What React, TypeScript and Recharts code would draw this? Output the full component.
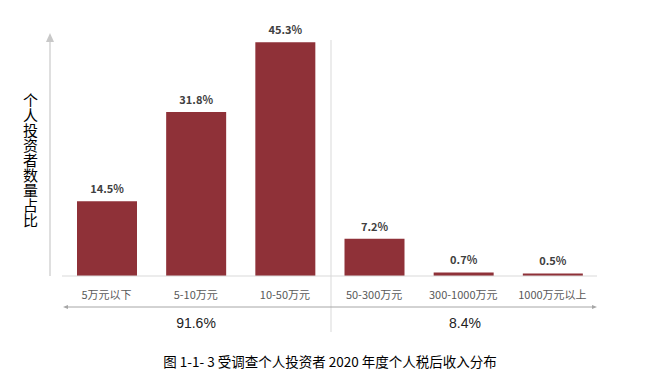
import React from "react";
import { BarChart, Bar, XAxis, YAxis, LabelList } from "recharts";

const categories = ["5万元以下", "5-10万元", "10-50万元", "50-300万元", "300-1000万元", "1000万元以上"];
const shares = [14.5, 31.8, 45.3, 7.2, 0.7, 0.5];
const groupLabels = ["91.6%", "8.4%"];
const yTitle = "个人投资者数量占比";
const caption = "图 1-1- 3 受调查个人投资者 2020 年度个人税后收入分布";

const data = categories.map((name, i) => ({ name, value: shares[i] }));

const BAR = "#8f3138";
const CJK = '"Noto Sans CJK SC", "Microsoft YaHei", sans-serif';

export default function App() {
  return (
    <div style={{ position: "absolute", left: 0, top: 0, width: 647, height: 384, background: "#fff", fontFamily: CJK }}>
      <BarChart width={647} height={384} data={data} margin={{ top: 18, right: 50, bottom: 78, left: 62 }}>
        <XAxis
          dataKey="name"
          axisLine={{ stroke: "#d9d9d9" }}
          tickLine={false}
          tick={{ fill: "#595959", fontSize: 11, fontFamily: CJK }}
          tickMargin={9}
          interval={0}
        />
        <YAxis hide domain={[0, 50]} />
        <Bar dataKey="value" fill={BAR} barSize={60} isAnimationActive={false}>
          <LabelList
            dataKey="value"
            position="top"
            offset={8}
            formatter={(v: number) => `${v}%`}
            style={{ fill: "#404040", fontSize: 11, fontWeight: "bold", fontFamily: CJK }}
          />
        </Bar>
      </BarChart>
      <svg width={647} height={384} style={{ position: "absolute", left: 0, top: 0, pointerEvents: "none" }}>
        <line x1={50} y1={40} x2={50} y2={276} stroke="#d4d4d4" strokeWidth={1.5} />
        <path d="M46,42 L50,33 L54,42 Z" fill="#c8c8c8" />
        <line x1={331} y1={40} x2={331} y2={332} stroke="#d9d9d9" strokeWidth={1} />
        <line x1={66} y1={307} x2={593} y2={307} stroke="#a6a6a6" strokeWidth={1} />
        <path d="M63,307 L68,305 L68,309 Z" fill="#a6a6a6" />
        <path d="M597,307 L592,305 L592,309 Z" fill="#a6a6a6" />
        <text x={196} y={328} textAnchor="middle" fontSize={14} fill="#222" fontFamily='"Liberation Sans", Arial, sans-serif'>{groupLabels[0]}</text>
        <text x={465} y={328} textAnchor="middle" fontSize={14} fill="#222" fontFamily='"Liberation Sans", Arial, sans-serif'>{groupLabels[1]}</text>
        <text x={330} y={367} textAnchor="middle" fontSize={13.5} fill="#000" fontFamily={CJK}>{caption}</text>
      </svg>
      <div style={{ position: "absolute", left: 22, top: 93, writingMode: "vertical-rl", fontSize: 15, lineHeight: "16px", color: "#000", fontFamily: CJK, letterSpacing: 0 }}>
        {yTitle}
      </div>
    </div>
  );
}
